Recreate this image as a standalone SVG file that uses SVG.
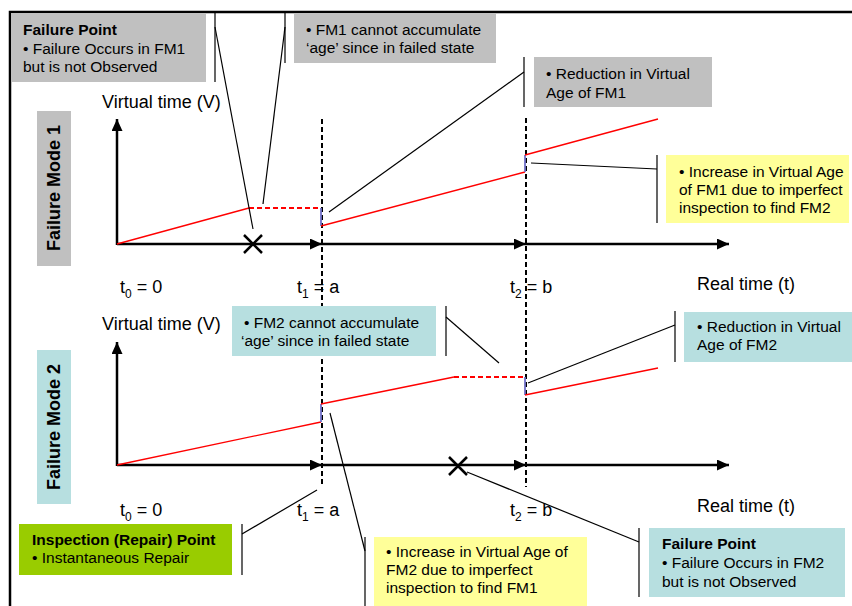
<svg xmlns="http://www.w3.org/2000/svg" width="852" height="606" viewBox="0 0 852 606">
  <style>
    .lbl { font-family: "Liberation Sans", Arial, sans-serif; font-size: 18px; fill: #000; }
    .sub { font-size: 12px; }
    .note { font-family: "Liberation Sans", Arial, sans-serif; font-size: 15.5px; fill: #000; }
    .bold { font-weight: bold; }
    .mode { font-family: "Liberation Sans", Arial, sans-serif; font-size: 18px; font-weight: bold; fill: #000; }
    .axis { stroke: #000; stroke-width: 2.5; fill: none; }
    .mark { stroke: #000; stroke-width: 1.2; fill: none; }
    .tick { stroke: #000; stroke-width: 2; stroke-dasharray: 5 3; fill: none; }
    .age { stroke: #ff0000; stroke-width: 1.3; fill: none; }
    .stall { stroke: #ff0000; stroke-width: 2.2; stroke-dasharray: 5 3; fill: none; }
    .jump { stroke: #7070c8; stroke-width: 1.8; fill: none; }
    .cross { stroke: #000; stroke-width: 2.5; fill: none; }
    .gray { fill: #c0c0c0; }
    .yellow { fill: #ffff99; }
    .teal { fill: #b7dfe0; }
    .green { fill: #99cc00; }
  </style>
  <defs>
    <marker id="arrow" markerUnits="userSpaceOnUse" markerWidth="13" markerHeight="11" refX="12" refY="5.5" orient="auto">
      <path d="M0,0 L12,5.5 L0,11 z" fill="#000"/>
    </marker>
  </defs>

  <rect width="852" height="606" fill="#fff"/>
  <!-- frame -->
  <path d="M10,606 V12 H852" stroke="#000" stroke-width="2.5" fill="none"/>

  <!-- mode labels -->
  <g id="mode1">
    <rect class="gray" x="37" y="111" width="34" height="155"/>
    <text class="mode" transform="translate(60,188) rotate(-90)" text-anchor="middle">Failure Mode 1</text>
  </g>
  <g id="mode2">
    <rect class="teal" x="37" y="350" width="34" height="154"/>
    <text class="mode" transform="translate(60,427) rotate(-90)" text-anchor="middle">Failure Mode 2</text>
  </g>

  <!-- time instants -->
  <g id="instants">
    <line class="tick" x1="322" y1="119" x2="322" y2="487"/>
    <line class="tick" x1="526" y1="118" x2="526" y2="487"/>
  </g>

  <!-- chart 1: axes -->
  <g id="chart1-axes">
    <line class="axis" x1="117" y1="245" x2="117" y2="119" marker-end="url(#arrow)"/>
    <line class="axis" x1="117" y1="244" x2="322" y2="244" marker-end="url(#arrow)"/>
    <line class="axis" x1="322" y1="244" x2="526" y2="244" marker-end="url(#arrow)"/>
    <line class="axis" x1="526" y1="244" x2="729" y2="244" marker-end="url(#arrow)"/>
    <text class="lbl" x="102" y="108">Virtual time (V)</text>
    <text class="lbl" x="120" y="293">t<tspan class="sub" dy="5">0</tspan><tspan dy="-5"> = 0</tspan></text>
    <text class="lbl" x="297" y="293">t<tspan class="sub" dy="5">1</tspan><tspan dy="-5"> = a</tspan></text>
    <text class="lbl" x="510" y="293">t<tspan class="sub" dy="5">2</tspan><tspan dy="-5"> = b</tspan></text>
    <text class="lbl" x="697" y="290">Real time (t)</text>
  </g>
  <!-- chart 1: virtual age of FM1 -->
  <g id="chart1-age">
    <line class="age" x1="117" y1="244" x2="249" y2="208"/>
    <line class="stall" x1="249" y1="208" x2="321" y2="208"/>
    <line class="jump" x1="321" y1="208" x2="321" y2="226"/>
    <line class="age" x1="321" y1="226" x2="525" y2="172"/>
    <line class="jump" x1="525" y1="172" x2="525" y2="155"/>
    <line class="age" x1="525" y1="155" x2="658" y2="119"/>
    <path class="cross" d="M244,235 L262,253 M262,235 L244,253"/>
  </g>

  <!-- chart 2: axes -->
  <g id="chart2-axes">
    <line class="axis" x1="117" y1="466" x2="117" y2="342" marker-end="url(#arrow)"/>
    <line class="axis" x1="117" y1="465" x2="322" y2="465" marker-end="url(#arrow)"/>
    <line class="axis" x1="322" y1="465" x2="526" y2="465" marker-end="url(#arrow)"/>
    <line class="axis" x1="526" y1="465" x2="729" y2="465" marker-end="url(#arrow)"/>
    <text class="lbl" x="102" y="330">Virtual time (V)</text>
    <text class="lbl" x="120" y="516">t<tspan class="sub" dy="5">0</tspan><tspan dy="-5"> = 0</tspan></text>
    <text class="lbl" x="297" y="516">t<tspan class="sub" dy="5">1</tspan><tspan dy="-5"> = a</tspan></text>
    <text class="lbl" x="510" y="516">t<tspan class="sub" dy="5">2</tspan><tspan dy="-5"> = b</tspan></text>
    <text class="lbl" x="697" y="512">Real time (t)</text>
  </g>
  <!-- chart 2: virtual age of FM2 -->
  <g id="chart2-age">
    <line class="age" x1="117" y1="465" x2="321" y2="422"/>
    <line class="jump" x1="321" y1="422" x2="321" y2="404"/>
    <line class="age" x1="321" y1="404" x2="454" y2="377"/>
    <line class="stall" x1="454" y1="377" x2="525" y2="377"/>
    <line class="jump" x1="525" y1="377" x2="525" y2="395"/>
    <line class="age" x1="525" y1="395" x2="658" y2="368"/>
    <path class="cross" d="M449,457 L467,475 M467,457 L449,475"/>
  </g>

  <!-- callout leaders -->
  <g id="connectors">
    <line class="mark" x1="215" y1="12" x2="215" y2="82"/>
    <line class="mark" x1="215" y1="27" x2="253" y2="229"/>
    <line class="mark" x1="285" y1="12" x2="285" y2="63"/>
    <line class="mark" x1="285" y1="27" x2="263" y2="204"/>
    <line class="mark" x1="524" y1="57" x2="524" y2="107"/>
    <line class="mark" x1="524" y1="72" x2="329" y2="212"/>
    <line class="mark" x1="657" y1="155" x2="657" y2="223"/>
    <line class="mark" x1="657" y1="169" x2="531" y2="163"/>
    <line class="mark" x1="446" y1="306" x2="446" y2="356"/>
    <line class="mark" x1="446" y1="317" x2="499" y2="363"/>
    <line class="mark" x1="675" y1="311" x2="675" y2="362"/>
    <line class="mark" x1="675" y1="325" x2="528" y2="383"/>
    <line class="mark" x1="365" y1="537" x2="365" y2="606"/>
    <line class="mark" x1="365" y1="551" x2="330" y2="413"/>
    <line class="mark" x1="242" y1="524" x2="242" y2="575"/>
    <line class="mark" x1="242" y1="534" x2="317" y2="490"/>
    <line class="mark" x1="639" y1="528" x2="639" y2="597"/>
    <line class="mark" x1="639" y1="542" x2="467" y2="472"/>
  </g>

  <!-- callout boxes -->
  <g id="fail1">
    <rect class="gray" x="11" y="13" width="195" height="69"/>
    <text class="note bold" x="23" y="35">Failure Point</text>
    <text class="note" x="23" y="54">• Failure Occurs in FM1</text>
    <text class="note" x="23" y="72">but is not Observed</text>
  </g>
  <g id="noage1">
    <rect class="gray" x="294" y="13" width="202" height="50"/>
    <text class="note" x="306" y="35">• FM1 cannot accumulate</text>
    <text class="note" x="306" y="53">‘age’ since in failed state</text>
  </g>
  <g id="reduce1">
    <rect class="gray" x="534" y="57" width="178" height="50"/>
    <text class="note" x="546" y="79">• Reduction in Virtual</text>
    <text class="note" x="546" y="98">Age of FM1</text>
  </g>
  <g id="increase1">
    <rect class="yellow" x="666" y="155" width="183" height="68"/>
    <text class="note" x="679" y="177">• Increase in Virtual Age</text>
    <text class="note" x="679" y="195">of FM1 due to imperfect</text>
    <text class="note" x="679" y="213">inspection to find FM2</text>
  </g>
  <g id="noage2">
    <rect class="teal" x="232" y="306" width="204" height="50"/>
    <text class="note" x="244" y="328">• FM2 cannot accumulate</text>
    <text class="note" x="241" y="346">‘age’ since in failed state</text>
  </g>
  <g id="reduce2">
    <rect class="teal" x="684" y="312" width="168" height="50"/>
    <text class="note" x="697" y="332">• Reduction in Virtual</text>
    <text class="note" x="697" y="350">Age of FM2</text>
  </g>
  <g id="repair">
    <rect class="green" x="19" y="524" width="213" height="51"/>
    <text class="note bold" x="32" y="545">Inspection (Repair) Point</text>
    <text class="note" x="32" y="563">• Instantaneous Repair</text>
  </g>
  <g id="increase2">
    <rect class="yellow" x="374" y="537" width="213" height="69"/>
    <text class="note" x="386" y="557">• Increase in Virtual Age of</text>
    <text class="note" x="386" y="575">FM2 due to imperfect</text>
    <text class="note" x="386" y="593">inspection to find FM1</text>
  </g>
  <g id="fail2">
    <rect class="teal" x="649" y="528" width="196" height="69"/>
    <text class="note bold" x="662" y="549">Failure Point</text>
    <text class="note" x="662" y="568">• Failure Occurs in FM2</text>
    <text class="note" x="662" y="587">but is not Observed</text>
  </g>
</svg>
